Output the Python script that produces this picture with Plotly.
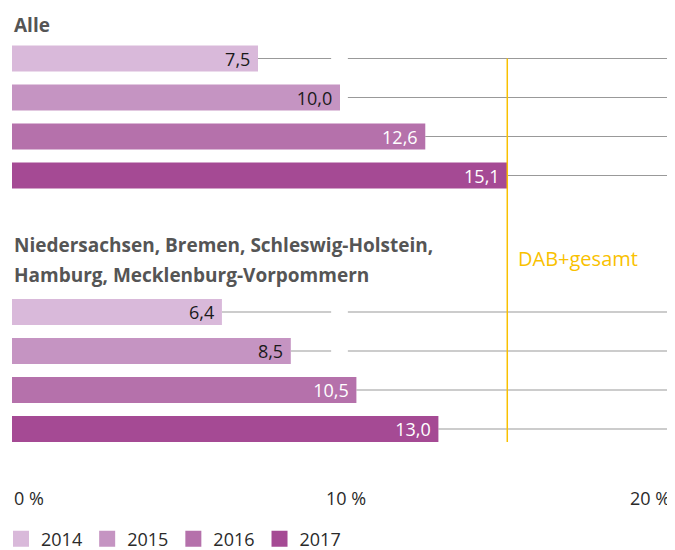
import plotly.graph_objects as go

# ---- data ----
groups = ["Alle", "Niedersachsen, Bremen, Schleswig-Holstein,<br>Hamburg, Mecklenburg-Vorpommern"]
years = ["2014", "2015", "2016", "2017"]
values_alle = [7.5, 10.0, 12.6, 15.1]
values_nord = [6.4, 8.5, 10.5, 13.0]
dab_gesamt = 15.1
dab_label = "DAB+gesamt"
tick_vals = [0, 10, 20]
tick_text = ["0 %", "10 %", "20 %"]

# ---- styles ----
colors = ["#D9B9DA", "#C594C2", "#B571AB", "#A54A94"]
text_colors = ["#1a1a1a", "#1a1a1a", "#ffffff", "#ffffff"]
FONT = "Open Sans"
OFF = 8                      # page body margin offset
W, H = 675 - OFF, 550 - OFF  # figure size that fits the window
B = 25                       # bottom margin (legend area)
ROW = 39.0                   # px per row unit
ROW0_PX = 58.5               # page pixel of first bar center
group_start = [0.0, 6.5]
bar_w = 0.67
X0_PX, X1_PX = 12, 668       # page pixels of 0 % and 20 %
LEGEND_PX = 539              # page pixel of legend row center

def pos(g, i):
    return group_start[g] + i

def px_to_row(p):            # p is a page pixel
    return (p - ROW0_PX) / ROW

group_vals = [values_alle, values_nord]

fig = go.Figure()
for i, yr in enumerate(years):
    xs = [group_vals[g][i] for g in range(len(groups))]
    ys = [pos(g, i) for g in range(len(groups))]
    fig.add_trace(go.Bar(
        x=xs, y=ys, orientation="h", name=yr, showlegend=False,
        width=bar_w,
        marker=dict(color=colors[i], line=dict(width=0)),
        text=[f"{v:.1f}".replace(".", ",") + "\u00a0" for v in xs],
        textposition="inside", insidetextanchor="end",
        textfont=dict(color=text_colors[i], size=18, family=FONT),
        constraintext="none", cliponaxis=False,
        hoverinfo="skip",
    ))
# legend entries (square swatches)
for i, yr in enumerate(years):
    fig.add_trace(go.Scatter(
        x=[None], y=[None], mode="markers", name=yr,
        marker=dict(symbol="square", size=16, color=colors[i]),
        hoverinfo="skip",
    ))

shapes = []
gap = (9.73, 10.24)
for g in range(len(groups)):
    for i in range(len(years)):
        v = group_vals[g][i]
        y = pos(g, i)
        segs = [(v, 20)]
        if i < 2:  # light bars show a small gap in the guide line
            segs = [(v, gap[0]), (max(v, gap[1]), 20)] if v < gap[0] else [(max(v, gap[1]), 20)]
        for a, b in segs:
            shapes.append(dict(type="line", xref="x", yref="y", x0=a, x1=b, y0=y, y1=y,
                               line=dict(color="#999999", width=1.2), layer="below"))

# DAB+ overall line
shapes.append(dict(type="line", xref="x", yref="y", x0=dab_gesamt, x1=dab_gesamt,
                   y0=pos(0, 0), y1=pos(1, 3) + bar_w / 2,
                   line=dict(color="#F9C100", width=1.5), layer="above"))

annotations = []
# group titles
annotations.append(dict(x=0, y=px_to_row(25), xref="x", yref="y", text=f"<b>{groups[0]}</b>",
                        showarrow=False, xanchor="left", yanchor="middle",
                        font=dict(size=19, color="#555555", family=FONT)))
for k, line in enumerate(groups[1].split("<br>")):
    annotations.append(dict(x=0, y=px_to_row(245 + 30 * k), xref="x", yref="y", text=f"<b>{line}</b>",
                            showarrow=False, xanchor="left", yanchor="middle",
                            font=dict(size=19, color="#555555", family=FONT)))
annotations.append(dict(x=dab_gesamt, y=px_to_row(258), xref="x", yref="y", text=dab_label,
                        showarrow=False, xanchor="left", yanchor="middle", xshift=9,
                        font=dict(size=20, color="#F9C100", family=FONT)))
# x tick labels
anchors = ["left", "center", "right"]
shifts = [0, 6, 4]
for tv, tt, an, sh in zip(tick_vals, tick_text, anchors, shifts):
    annotations.append(dict(x=tv, y=px_to_row(498), xref="x", yref="y", text=tt,
                            showarrow=False, xanchor=an, yanchor="middle", xshift=sh,
                            font=dict(size=18, color="#2a2a2a", family=FONT)))

plot_w = X1_PX - X0_PX
plot_h = H - B
fig.update_layout(
    width=W, height=H,
    margin=dict(l=X0_PX - OFF, r=W - (X1_PX - OFF), t=0, b=B, autoexpand=False),
    paper_bgcolor="white", plot_bgcolor="white",
    barmode="overlay",
    showlegend=True,
    legend=dict(orientation="h", x=-(X0_PX - 1) / plot_w, xanchor="left",
                y=-((LEGEND_PX - OFF) - plot_h) / plot_h, yanchor="middle",
                font=dict(size=18, color="#2a2a2a", family=FONT),
                itemwidth=30, borderwidth=0, itemclick=False, itemdoubleclick=False,
                bgcolor="rgba(0,0,0,0)"),
    xaxis=dict(range=[0, 20], showgrid=False, zeroline=False, showticklabels=False,
               showline=False, ticks=""),
    yaxis=dict(range=[px_to_row(OFF + plot_h), px_to_row(OFF)], showgrid=False, zeroline=False,
               showticklabels=False, showline=False, ticks=""),
    shapes=shapes, annotations=annotations,
    font=dict(family=FONT),
)

fig.write_html("out.html")
